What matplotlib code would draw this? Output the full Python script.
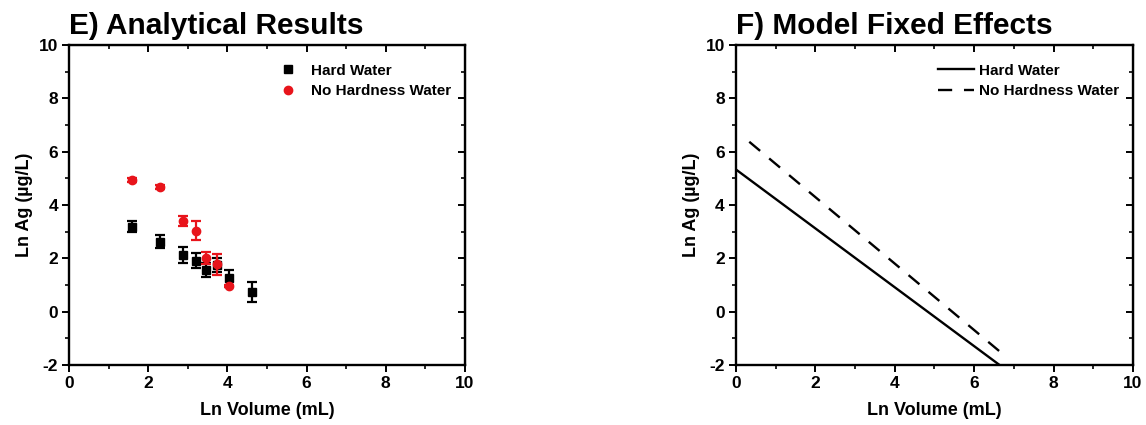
import matplotlib
matplotlib.use("Agg")
import matplotlib.pyplot as plt
from matplotlib.ticker import MultipleLocator

plt.rcParams['font.family'] = ['Liberation Sans', 'DejaVu Sans']
plt.rcParams['font.weight'] = 'bold'
plt.rcParams['axes.unicode_minus'] = False

# Panel E data
hard_x = [1.60, 2.30, 2.87, 3.21, 3.45, 3.73, 4.04, 4.61]
hard_y = [3.19, 2.63, 2.13, 1.91, 1.56, 1.75, 1.25, 0.73]
hard_err = [0.20, 0.25, 0.29, 0.29, 0.25, 0.25, 0.33, 0.37]

soft_x = [1.60, 2.30, 2.87, 3.21, 3.45, 3.73, 4.04]
soft_y = [4.94, 4.67, 3.40, 3.04, 2.00, 1.78, 0.96]
soft_err = [0.08, 0.08, 0.17, 0.37, 0.23, 0.40, 0.05]

# Panel F model lines (endpoints)
fit_hard_x = [0.0, 6.64]
fit_hard_y = [5.33, -2.0]
fit_soft_x = [0.335, 6.77]
fit_soft_y = [6.37, -1.65]

labels = ["Hard Water", "No Hardness Water"]

fig = plt.figure(figsize=(11.46, 4.25), dpi=100)
axE = fig.add_axes([0.0602, 0.1412, 0.3455, 0.753])
axF = fig.add_axes([0.6422, 0.1412, 0.3464, 0.753])


def style(ax):
    ax.set_xlim(0, 10)
    ax.set_ylim(-2, 10)
    ax.xaxis.set_major_locator(MultipleLocator(2))
    ax.xaxis.set_minor_locator(MultipleLocator(1))
    ax.yaxis.set_major_locator(MultipleLocator(2))
    ax.yaxis.set_minor_locator(MultipleLocator(1))
    for s in ax.spines.values():
        s.set_linewidth(1.7)
    ax.tick_params(which='major', direction='out', length=5, width=1.4,
                   labelsize=12.5, pad=3)
    ax.tick_params(which='minor', direction='out', length=3, width=1.2)
    for lab in ax.get_xticklabels() + ax.get_yticklabels():
        lab.set_fontweight('bold')
    top = ax.secondary_xaxis('top')
    top.xaxis.set_major_locator(MultipleLocator(2))
    top.xaxis.set_minor_locator(MultipleLocator(1))
    top.tick_params(which='major', direction='in', length=5, width=1.4, labeltop=False)
    top.tick_params(which='minor', direction='in', length=3, width=1.2)
    right = ax.secondary_yaxis('right')
    right.yaxis.set_major_locator(MultipleLocator(2))
    right.yaxis.set_minor_locator(MultipleLocator(1))
    right.tick_params(which='major', direction='in', length=5, width=1.4, labelright=False)
    right.tick_params(which='minor', direction='in', length=3, width=1.2)
    ax.set_xlabel("Ln Volume (mL)", fontsize=13, fontweight='bold', labelpad=8)
    ax.set_ylabel("Ln Ag (µg/L)", fontsize=13, fontweight='bold', labelpad=4)


style(axE)
axE.errorbar(hard_x, hard_y, yerr=hard_err, fmt='s', color='black', ms=5.5,
             capsize=3.5, elinewidth=1.6, capthick=1.6, label=labels[0], zorder=3)
axE.errorbar(soft_x, soft_y, yerr=soft_err, fmt='o', color='#e8141b', ms=6,
             capsize=3.5, elinewidth=1.6, capthick=1.6, label=labels[1], zorder=4)
handles, labs = axE.get_legend_handles_labels()
handles = [h[0] for h in handles]
axE.legend(handles, labs, loc='upper right', bbox_to_anchor=(1.0, 0.985),
           frameon=False, prop={'size': 11, 'weight': 'bold'},
           handletextpad=0.9, handlelength=1.2, labelspacing=0.45)
axE.text(0.0, 1.015, "E) Analytical Results", transform=axE.transAxes,
         fontsize=21.5, fontweight='bold', ha='left', va='bottom')

style(axF)
axF.plot(fit_hard_x, fit_hard_y, color='black', lw=1.7, label=labels[0])
axF.plot(fit_soft_x, fit_soft_y, color='black', lw=1.7, ls=(0, (6, 5)), label=labels[1])
axF.legend(loc='upper right', bbox_to_anchor=(1.0, 0.985), frameon=False,
           prop={'size': 11, 'weight': 'bold'}, handletextpad=0.3,
           handlelength=2.4, labelspacing=0.45)
axF.text(0.0, 1.015, "F) Model Fixed Effects", transform=axF.transAxes,
         fontsize=21.5, fontweight='bold', ha='left', va='bottom')

fig.savefig("out.png", dpi=100)
